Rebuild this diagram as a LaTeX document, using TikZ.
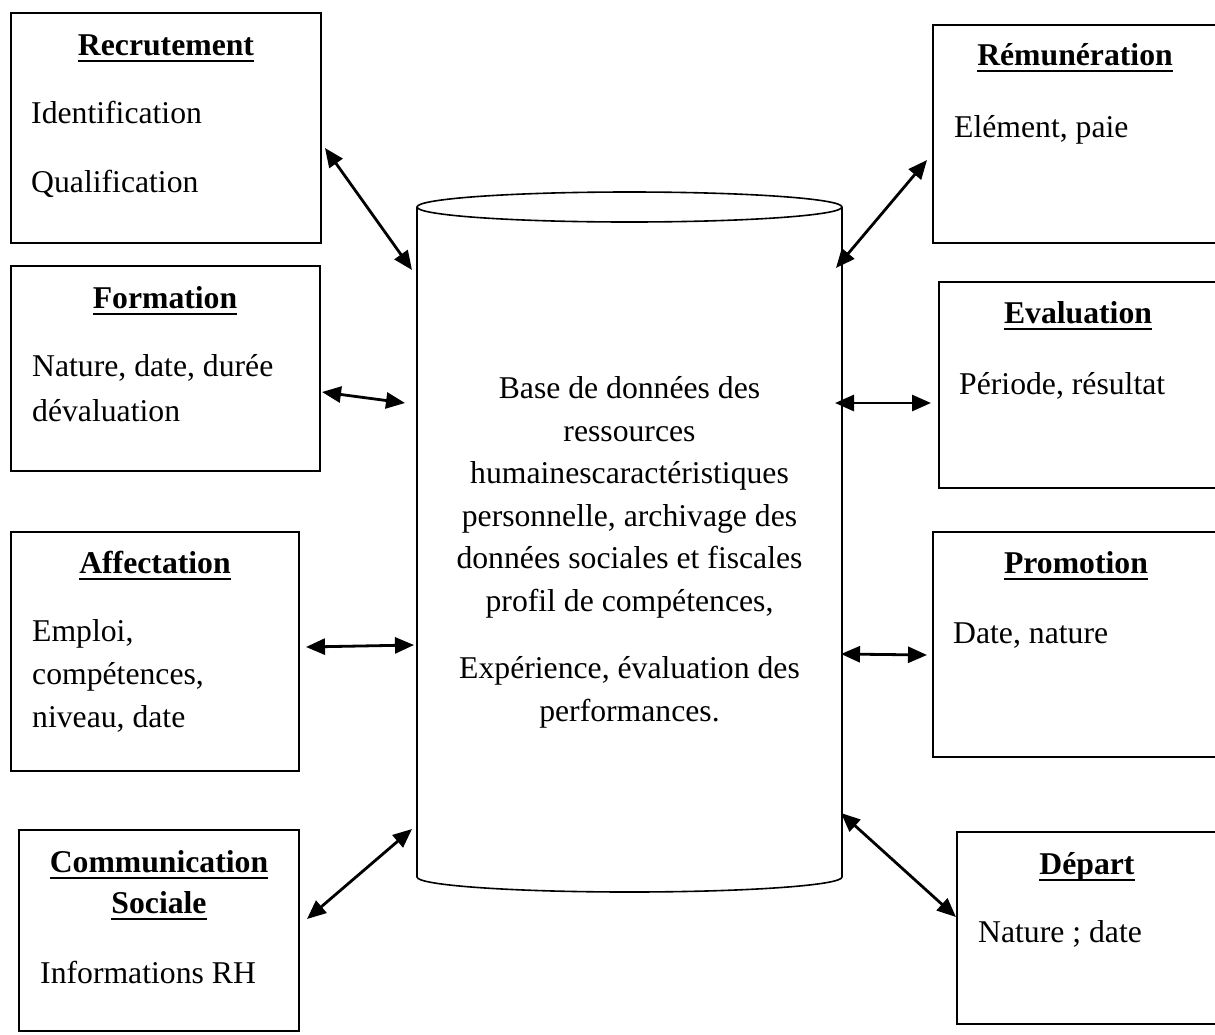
\documentclass[tikz,border=0pt]{standalone}
\usepackage{fontspec}
\setmainfont{Liberation Serif}
\usetikzlibrary{arrows.meta}
\newcommand\boxfont{\fontsize{31.7}{44}\selectfont}
% bold title with a fixed underline rule
\newcommand\undertitle[1]{\setbox0\hbox{#1}\rlap{\vrule height -4.6pt depth 7.3pt width \wd0}\box0}
\begin{document}
\begin{tikzpicture}[x=1pt,y=-1pt,
  frame/.style={draw, line width=1.6pt, inner sep=0pt},
  body/.style={font=\boxfont, anchor=base west, inner sep=0pt},
  head/.style={font=\boxfont\bfseries, anchor=base, inner sep=0pt},
  mid/.style={font=\boxfont, anchor=base, inner sep=0pt},
  link/.style={{Triangle[length=19pt,width=16pt]}-{Triangle[length=19pt,width=16pt]}, line width=2.8pt}]
\useasboundingbox (0,0) rectangle (1215,1034);
\clip (0,0) rectangle (1215,1034);

% --- database cylinder ---
\draw[line width=1.6pt] (629.5,207) ellipse [x radius=212.5pt, y radius=15pt];
\draw[line width=1.6pt] (417,207) -- (417,877)
  arc[start angle=180, end angle=360, x radius=212.5pt, y radius=15pt] -- (842,207);
\node[mid] (db1) at (629.5,398) {Base de données des};
\node[mid] (db2) at (629.5,441) {ressources};
\node[mid] (db3) at (629.5,483) {humainescaractéristiques};
\node[mid] (db4) at (629.5,526) {personnelle, archivage des};
\node[mid] (db5) at (629.5,568) {données sociales et fiscales};
\node[mid] (db6) at (629.5,611) {profil de compétences,};
\node[mid] (db7) at (629.5,678) {Expérience, évaluation des};
\node[mid] (db8) at (629.5,721) {performances.};

% --- left boxes ---
\node[frame, minimum width=310pt, minimum height=230pt] (recr) at (166,128) {};
\node[head] (recrT) at (166,55) {\undertitle{Recrutement}};
\node[body] (recr1) at (31,123) {Identification};
\node[body] (recr2) at (31,192) {Qualification};

\node[frame, minimum width=309pt, minimum height=205pt] (form) at (165.5,368.5) {};
\node[head] (formT) at (165,308) {\undertitle{Formation}};
\node[body] (form1) at (32,376) {Nature, date, durée};
\node[body] (form2) at (32,421) {dévaluation};

\node[frame, minimum width=288pt, minimum height=239pt] (affe) at (155,651.5) {};
\node[head] (affeT) at (155,573) {\undertitle{Affectation}};
\node[body] (affe1) at (32,641) {Emploi,};
\node[body] (affe2) at (32,684) {compétences,};
\node[body] (affe3) at (32,727) {niveau, date};

\node[frame, minimum width=280pt, minimum height=201pt] (comm) at (159,930.5) {};
\node[head] (commT) at (159,872) {\undertitle{Communication}};
\node[head] (commT2) at (159,913) {\undertitle{Sociale}};
\node[body] (comm1) at (40,983) {Informations RH};

% --- right boxes ---
\node[frame, minimum width=284pt, minimum height=218pt] (remu) at (1075,134) {};
\node[head] (remuT) at (1075,65) {\undertitle{Rémunération}};
\node[body] (remu1) at (954,137) {Elément, paie};

\node[frame, minimum width=278pt, minimum height=206pt] (eval) at (1078,385) {};
\node[head] (evalT) at (1078,323) {\undertitle{Evaluation}};
\node[body] (eval1) at (959,394) {Période, résultat};

\node[frame, minimum width=284pt, minimum height=225pt] (prom) at (1075,644.5) {};
\node[head] (promT) at (1076,573) {\undertitle{Promotion}};
\node[body] (prom1) at (953,643) {Date, nature};

\node[frame, minimum width=260pt, minimum height=192pt] (depa) at (1087,928) {};
\node[head] (depaT) at (1087,874) {\undertitle{Départ}};
\node[body] (depa1) at (978,942) {Nature ; date};

% --- connector ends ---
\coordinate (a1) at (325,148);  \coordinate (c1) at (412,270);
\coordinate (a2) at (322,392);  \coordinate (c2) at (405,403);
\coordinate (a3) at (306,647);  \coordinate (c3) at (414,645);
\coordinate (a4) at (307,919);  \coordinate (c4) at (412,829);
\coordinate (b1) at (927,160);  \coordinate (d1) at (836,268);
\coordinate (b2) at (931,403);  \coordinate (d2) at (835,403);
\coordinate (b3) at (927,655);  \coordinate (d3) at (841,654);
\coordinate (b4) at (956,917);  \coordinate (d4) at (841,813);

\draw[link] (a1) -- (c1);
\draw[link] (a2) -- (c2);
\draw[link] (a3) -- (c3);
\draw[link] (a4) -- (c4);
\draw[link] (b1) -- (d1);
\draw[link] (b2) -- (d2);
\draw[link] (b3) -- (d3);
\draw[link] (b4) -- (d4);
\end{tikzpicture}
\end{document}
